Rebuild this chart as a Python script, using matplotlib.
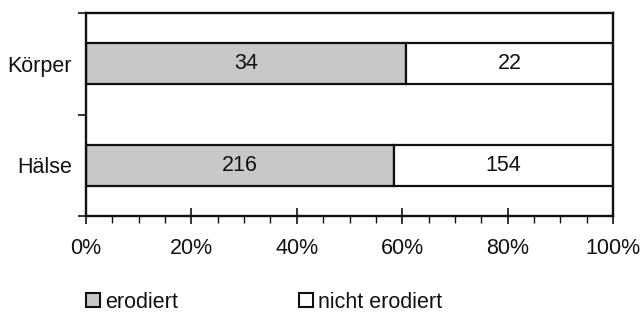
import matplotlib
matplotlib.use("Agg")
import matplotlib.pyplot as plt
from matplotlib.patches import Patch
from matplotlib.ticker import MultipleLocator, FixedLocator, PercentFormatter

plt.rcParams['font.family'] = ['Liberation Sans', 'DejaVu Sans']

categories = ["Hälse", "Körper"]
erodiert = [216, 34]
nicht_erodiert = [154, 22]
series_names = ["erodiert", "nicht erodiert"]
x_ticks = [0, 20, 40, 60, 80, 100]

gray = "#c8c8c8"
fs = 15.5

fig = plt.figure(figsize=(6.4, 3.12), dpi=100)
ax = fig.add_axes([86/640, 1-216/312, (613-86)/640, (216-13)/312])

ypos = list(range(len(categories)))
totals = [a + b for a, b in zip(erodiert, nicht_erodiert)]
p1 = [100 * a / t for a, t in zip(erodiert, totals)]
p2 = [100 * b / t for b, t in zip(nicht_erodiert, totals)]

bars1 = ax.barh(ypos, p1, height=0.4, color=gray, edgecolor="#111111", linewidth=1.6)
bars2 = ax.barh(ypos, p2, left=p1, height=0.4, color="white", edgecolor="#111111", linewidth=1.6)

for bar, v in zip(bars1, erodiert):
    ax.text(bar.get_x() + bar.get_width()/2, bar.get_y() + bar.get_height()/2, str(v),
            ha="center", va="center", fontsize=fs, color="#111111")
for bar, v in zip(bars2, nicht_erodiert):
    ax.text(bar.get_x() + bar.get_width()/2, bar.get_y() + bar.get_height()/2, str(v),
            ha="center", va="center", fontsize=fs, color="#111111")

ax.set_xlim(0, 100)
ax.set_ylim(-0.5, len(categories) - 0.5)
ax.set_xticks(x_ticks)
ax.xaxis.set_major_formatter(PercentFormatter(decimals=0))
ax.xaxis.set_minor_locator(MultipleLocator(5))
ax.tick_params(axis="x", which="major", direction="inout", length=11, width=1.2,
               labelsize=fs, pad=10, colors="#111111")
ax.tick_params(axis="x", which="minor", direction="out", length=5, width=1.0, colors="#111111")

ax.yaxis.set_major_locator(FixedLocator([-0.5, 0.5, 1.5]))
ax.yaxis.set_major_formatter(plt.NullFormatter())
ax.yaxis.set_minor_locator(FixedLocator(ypos))
ax.set_yticklabels(categories, minor=True)
ax.tick_params(axis="y", which="major", direction="out", length=6, width=1.2, colors="#111111")
ax.tick_params(axis="y", which="minor", length=0, labelsize=fs, pad=10, colors="#111111")

for s in ax.spines.values():
    s.set_linewidth(1.7)
    s.set_color("#111111")

handles = [Patch(facecolor=gray, edgecolor="#111111", linewidth=1.5),
           Patch(facecolor="white", edgecolor="#111111", linewidth=1.5)]
leg = fig.legend(handles, series_names, loc="center left", bbox_to_anchor=(86/640, 1-302/312),
                 ncol=2, frameon=False, fontsize=fs, handlelength=0.65, handleheight=0.65,
                 handletextpad=0.25, columnspacing=5.6, borderpad=0, borderaxespad=0)
for t in leg.get_texts():
    t.set_color("#111111")

fig.savefig("out.png", dpi=100)
